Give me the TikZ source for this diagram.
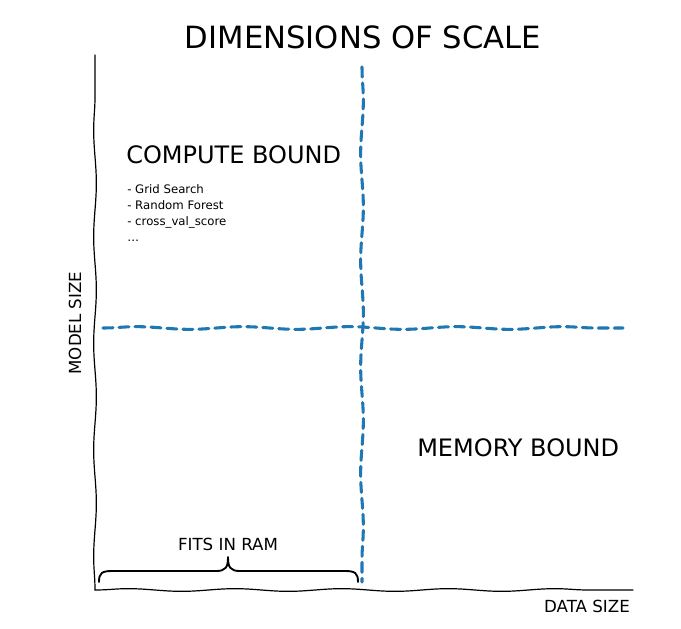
\documentclass[tikz,border=0pt]{standalone}
\usepackage{fontspec}
\setmainfont{DejaVu Sans}
\usepackage{xcolor}
\definecolor{mplblue}{HTML}{1F77B4}
\usetikzlibrary{decorations.pathmorphing}
\tikzset{
  every picture/.style={line cap=round, line join=round},
  wobbly/.style={decorate, decoration={snake, amplitude=1pt, segment length=80pt}},
  axisline/.style={black, line width=0.9pt, wobbly},
  splitline/.style={mplblue, line width=2.3pt, dash pattern=on 7.5pt off 4.5pt, wobbly},
  bracel/.style={black, line width=1.4pt},
  titletxt/.style={font=\fontsize{23}{26}\selectfont, inner sep=0pt},
  regiontxt/.style={font=\fontsize{18}{20}\selectfont, inner sep=0pt},
  listtxt/.style={font=\fontsize{8.8}{12}\selectfont, align=left, inner sep=0pt},
  axlbl/.style={font=\fontsize{12.5}{14}\selectfont, inner sep=0pt},
}
\begin{document}
\begin{tikzpicture}[x=0.75pt, y=-0.75pt]
\useasboundingbox (0,0) rectangle (681,628);
% axes
\coordinate (origin) at (95,590);
\coordinate (ytop) at (95,55);
\coordinate (xend) at (633,590);
\draw[axisline] (origin) -- (ytop);
\draw[axisline] (origin) -- (xend);
% the two splits
\coordinate (vtop) at (362,67);
\coordinate (vbot) at (362,582);
\coordinate (hleft) at (103,328);
\coordinate (hright) at (623,328);
\draw[splitline] (vtop) -- (vbot);
\draw[splitline] (hleft) -- (hright);
% labels
\node[titletxt] (title) at (363,37) {DIMENSIONS OF SCALE};
\node[regiontxt, anchor=west] (compute) at (126,155) {COMPUTE BOUND};
\node[listtxt, anchor=north west] (tasks) at (127,184)
  {- Grid Search\\- Random Forest\\- cross\_val\_score\\\ldots};
\node[regiontxt, anchor=west] (memory) at (417,448) {MEMORY BOUND};
\node[axlbl, rotate=90] (ylbl) at (75,323) {MODEL SIZE};
\node[axlbl] (xlbl) at (587,606) {DATA SIZE};
% brace under the fits-in-ram span
\draw[bracel] (99,582) .. controls (99,573) and (102,571) .. (112,571)
  -- (216,571) .. controls (226,571) and (228,567) .. (228,557)
  .. controls (228,567) and (230,571) .. (240,571)
  -- (345,571) .. controls (355,571) and (358,573) .. (358,582);
\node[axlbl] (ram) at (228,544) {FITS IN RAM};
\end{tikzpicture}
\end{document}
